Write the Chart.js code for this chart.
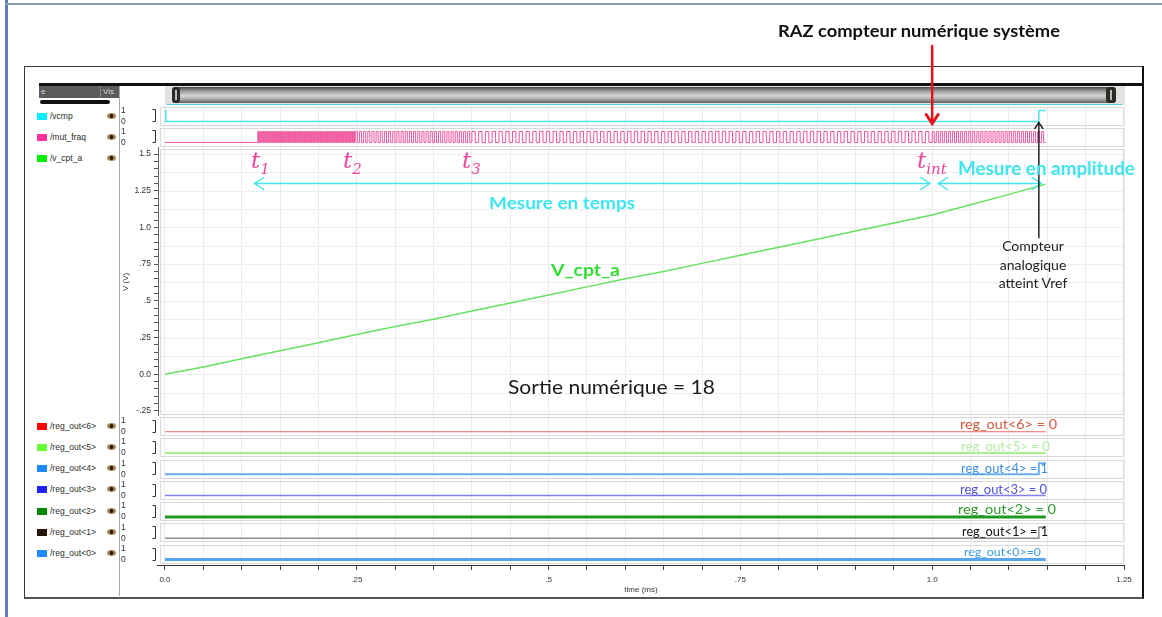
<!DOCTYPE html>
<html>
<head>
<meta charset="utf-8">
<script src="https://cdn.jsdelivr.net/npm/chart.js@4.4.1/dist/chart.umd.min.js"></script>
<style>
  html, body { margin: 0; padding: 0; background: #fff; width: 1162px; height: 617px; overflow: hidden; }
  #stage { position: relative; width: 1162px; height: 617px; font-family: "Liberation Sans", Arial, sans-serif; }
  .abs { position: absolute; }
  .name { position: absolute; left: 50px; font-size: 8.5px; color: #2a2a2a; line-height: 10px; height: 10px; white-space: nowrap; }
  .sq { position: absolute; left: 37px; width: 10px; height: 7px; }
  .eye { position: absolute; left: 107px; width: 9px; height: 6px; border-radius: 50%;
         background: radial-gradient(circle at 50% 50%, #2b1c06 0 1.6px, #a88a58 2.2px); }
  .txt { position: absolute; white-space: nowrap; transform-origin: 0 50%; font-family: Lato, "Open Sans", sans-serif; }
  .tl { position: absolute; white-space: nowrap; color: #e8489c; font-family: "DejaVu Serif", "Liberation Serif", serif; font-style: italic; font-size: 23px; line-height: 26px; }
  .tl sub { font-size: 15px; vertical-align: -6px; }
  .reg { position: absolute; white-space: nowrap; font-family: Lato, sans-serif; font-size: 13px; line-height: 16px; height: 16px; transform-origin: 0 50%; }
</style>
</head>
<body>
<div id="stage">
  <!-- page frame -->
  <div class="abs" style="left:5px;top:0;width:3px;height:617px;background:#5f80b4;"></div>
  <div class="abs" style="left:5px;top:3px;width:1157px;height:2px;background:#8a9bb5;"></div>

  <!-- waveform window frame -->
  <div class="abs" style="left:24px;top:66px;width:1117px;height:530px;border:1px solid #3a3a3a;border-right:2px solid #111;border-bottom:2px solid #555;"></div>
  <div class="abs" style="left:39px;top:83px;width:1103px;height:3px;background:#111;"></div>

  <!-- name panel header -->
  <div class="abs" style="left:39px;top:86px;width:80px;height:12px;background:#5b5b5b;"></div>
  <div class="abs" style="left:100px;top:86px;width:1px;height:12px;background:#8a8a8a;"></div>
  <div class="abs" style="left:41px;top:86px;font-size:8px;line-height:12px;color:#d8d8d8;">e</div>
  <div class="abs" style="left:103px;top:86px;font-size:8px;line-height:12px;color:#d8d8d8;">Vis</div>
  <div class="abs" style="left:40px;top:100px;width:70px;height:4px;border-radius:2px;background:#111;"></div>
  <div class="abs" style="left:119px;top:86px;width:1px;height:510px;background:#a9a9a9;"></div>

  <!-- time scroll bar -->
  <div class="abs" style="left:165px;top:86px;width:960px;height:19px;background:#e2e2e2;"></div>
  <div class="abs" style="left:172px;top:87px;width:944px;height:16px;border-radius:4px;background:linear-gradient(#4a4a4a,#9a9a9a 25%,#d6d6d6 55%,#a0a0a0 80%,#5a5a5a);"></div>
  <div class="abs" style="left:172px;top:87px;width:8px;height:16px;border-radius:3px;background:#2e2a26;"></div>
  <div class="abs" style="left:175px;top:90px;width:2px;height:10px;background:#bbb;"></div>
  <div class="abs" style="left:1106px;top:87px;width:10px;height:16px;border-radius:3px;background:#2e2a26;"></div>
  <div class="abs" style="left:1110px;top:90px;width:2px;height:10px;background:#bbb;"></div>
  <div class="abs" style="left:167px;top:104px;width:955px;height:1px;background:#47d6e6;"></div>

  <!-- signal names -->
  <div class="sq" style="top:113px;background:#00f0ff;"></div><div class="name" style="top:111px;">/vcmp</div><div class="eye" style="top:113px;"></div>
  <div class="sq" style="top:134px;background:#ff3399;"></div><div class="name" style="top:132px;">/mut_fraq</div><div class="eye" style="top:134px;"></div>
  <div class="sq" style="top:155px;background:#00ee00;"></div><div class="name" style="top:153px;">/v_cpt_a</div><div class="eye" style="top:155px;"></div>
  <div class="sq" style="top:423px;background:#ff0000;"></div><div class="name" style="top:421px;">/reg_out&lt;6&gt;</div><div class="eye" style="top:423px;"></div>
  <div class="sq" style="top:444px;background:#66ff33;"></div><div class="name" style="top:442px;">/reg_out&lt;5&gt;</div><div class="eye" style="top:444px;"></div>
  <div class="sq" style="top:465px;background:#1e8cff;"></div><div class="name" style="top:463px;">/reg_out&lt;4&gt;</div><div class="eye" style="top:465px;"></div>
  <div class="sq" style="top:486px;background:#2222ff;"></div><div class="name" style="top:484px;">/reg_out&lt;3&gt;</div><div class="eye" style="top:486px;"></div>
  <div class="sq" style="top:508px;background:#008a00;"></div><div class="name" style="top:506px;">/reg_out&lt;2&gt;</div><div class="eye" style="top:508px;"></div>
  <div class="sq" style="top:529px;background:#241507;"></div><div class="name" style="top:527px;">/reg_out&lt;1&gt;</div><div class="eye" style="top:529px;"></div>
  <div class="sq" style="top:550px;background:#1e8cff;"></div><div class="name" style="top:548px;">/reg_out&lt;0&gt;</div><div class="eye" style="top:550px;"></div>

  <canvas id="wave" width="1162" height="617" style="position:absolute;left:0;top:0;"></canvas>

  <!-- annotations -->
  <div class="txt" data-w="282" style="left:778px;top:21px;font-size:17px;line-height:20px;font-weight:bold;color:#111;">RAZ compteur numérique système</div>
  <div class="tl" style="left:251px;top:147px;">t<sub>1</sub></div>
  <div class="tl" style="left:343px;top:147px;">t<sub>2</sub></div>
  <div class="tl" style="left:462px;top:147px;">t<sub>3</sub></div>
  <div class="tl" style="left:917px;top:147px;">t<sub>int</sub></div>
  <div class="txt" data-w="177" style="left:958px;top:157px;font-size:18px;line-height:22px;font-weight:bold;color:#3ee6f0;">Mesure en amplitude</div>
  <div class="txt" data-w="146" style="left:489px;top:192px;font-size:17px;line-height:22px;font-weight:bold;color:#3ee6f0;">Mesure en temps</div>
  <div class="txt" data-w="69" style="left:551px;top:259px;font-size:17px;line-height:22px;font-weight:bold;color:#33dd33;">V_cpt_a</div>
  <div class="abs" style="left:990px;top:237px;width:86px;text-align:center;font-family:Lato,sans-serif;font-size:14px;line-height:18.5px;color:#222;">Compteur<br>analogique<br>atteint Vref</div>
  <div class="txt" data-w="207" style="left:508px;top:374px;font-size:20px;line-height:24px;color:#1a1a1a;">Sortie numérique = 18</div>

  <div class="reg" data-w="97" style="left:960px;top:416px;color:#d4573e;">reg_out&lt;6&gt; = 0</div>
  <div class="reg" data-w="89" style="left:961px;top:438px;color:#b4eea4;">reg_out&lt;5&gt; = 0</div>
  <div class="reg" data-w="87" style="left:961px;top:460px;color:#3b8fdf;">reg_out&lt;4&gt; = 1</div>
  <div class="reg" data-w="87" style="left:960px;top:481px;color:#5050dc;">reg_out&lt;3&gt; = 0</div>
  <div class="reg" data-w="98" style="left:958px;top:501px;color:#2a9a2a;font-size:14px;">reg_out&lt;2&gt; = 0</div>
  <div class="reg" data-w="86" style="left:962px;top:523px;color:#111;">reg_out&lt;1&gt; = 1</div>
  <div class="reg" data-w="77" style="left:964px;top:544px;color:#3b9be6;font-size:12px;">reg_out&lt;0&gt;=0</div>
</div>

<script>
// ---- V_cpt_a analog ramp (time in ms, volts) ----
const rampTime = [0, 0.05, 0.10, 0.15, 0.20, 0.25, 0.30, 0.35, 0.40, 0.45, 0.50, 0.55,
                  0.60, 0.65, 0.70, 0.75, 0.80, 0.85, 0.90, 0.95, 1.00, 1.05, 1.10, 1.148];
const rampVolts = [0.00, 0.05, 0.105, 0.16, 0.215, 0.27, 0.325, 0.375, 0.43, 0.485, 0.54, 0.595,
                   0.65, 0.70, 0.755, 0.81, 0.865, 0.92, 0.975, 1.03, 1.085, 1.155, 1.225, 1.295];

// ---- vcmp comparator output: edge times and levels ----
const vcmpTime = [0, 0.001, 1.139, 1.148];
const vcmpLevel = [1, 0, 1, 1];

// ---- mut_fraq clock bursts: start, end and pulse count of each burst ----
const mutBurstStart = [0.121, 0.248, 0.400, 1.000];
const mutBurstEnd = [0.248, 0.400, 1.000, 1.148];
const mutBurstPulses = [70, 28, 68, 28];

// ---- digital counter outputs (18 = 0010010b) ----
const regTime = [0, 1.139, 1.148];
const regOut6 = [0, 0, 0];
const regOut5 = [0, 0, 0];
const regOut4 = [0, 1, 1];
const regOut3 = [0, 0, 0];
const regOut2 = [0, 0, 0];
const regOut1 = [0, 1, 1];
const regOut0 = [0, 0, 0];

// ---- axis tick labels ----
const timeLabelValues = [0, 0.25, 0.5, 0.75, 1.0, 1.25];
const timeLabels = ['0.0', '.25', '.5', '.75', '1.0', '1.25'];
const voltLabelValues = [1.5, 1.25, 1.0, 0.75, 0.5, 0.25, 0, -0.25];
const voltLabels = ['1.5', '1.25', '1.0', '.75', '.5', '.25', '0.0', '-.25'];

function toPoints(xs, ys) { return xs.map((x, i) => ({ x: x, y: ys[i] })); }

function clockPoints() {
  const pts = [{ x: 0, y: 0 }];
  mutBurstStart.forEach((s, b) => {
    const half = (mutBurstEnd[b] - s) / (2 * mutBurstPulses[b]);
    for (let k = 0; k < 2 * mutBurstPulses[b]; k++) pts.push({ x: s + k * half, y: k % 2 === 0 ? 1 : 0 });
  });
  pts.push({ x: mutBurstEnd[mutBurstEnd.length - 1], y: 0 });
  return pts;
}

function stepTicks(lo, hi, step) {
  const out = [];
  const n = Math.round((hi - lo) / step);
  for (let i = 0; i <= n; i++) out.push({ value: +(lo + i * step).toFixed(4) });
  return out;
}
function labelFor(v, values, labels) {
  const i = values.findIndex(t => Math.abs(t - v) < 1e-6);
  return i < 0 ? '' : labels[i];
}

const tickFont = { family: '"Liberation Sans", Arial, sans-serif', size: 8.5 };
const digitalLaneIds = ['yVcmp', 'yMut', 'yR6', 'yR5', 'yR4', 'yR3', 'yR2', 'yR1', 'yR0'];

function digitalAxis(order, height) {
  return {
    type: 'linear', position: 'left', stack: 'lanes', stackWeight: height, weight: order,
    min: -0.5, max: -0.5 + height / 11,
    afterFit: s => { s.width = 37; },
    afterBuildTicks: s => { s.ticks = [{ value: 0 }, { value: 1 }]; },
    ticks: { callback: v => (v === 1 ? '1' : '0'), crossAlign: 'far', autoSkip: false,
             font: tickFont, color: '#333', padding: 0 },
    grid: { display: false },
    border: { display: false }
  };
}

// lane boxes, analog grid and value brackets
const laneDecor = {
  id: 'laneDecor',
  beforeDatasetsDraw(chart) {
    const ctx = chart.ctx;
    const { left, right } = chart.chartArea;
    ctx.save();
    ctx.lineWidth = 1;
    const yV = chart.scales.yV;
    ctx.strokeStyle = '#ededed';
    for (let v = -0.25; v <= 1.5001; v += 0.125) {
      const y = Math.round(yV.getPixelForValue(v)) + 0.5;
      ctx.beginPath(); ctx.moveTo(left + 2, y); ctx.lineTo(right, y); ctx.stroke();
    }
    ctx.strokeStyle = '#d9d9d9';
    digitalLaneIds.concat(['yV']).forEach(id => {
      const s = chart.scales[id];
      ctx.strokeRect(left + 2.5, Math.round(s.top) + 1.5, right - left - 3, Math.round(s.bottom - s.top) - 3);
    });
    ctx.strokeStyle = '#333';
    digitalLaneIds.forEach(id => {
      const s = chart.scales[id];
      const x = left - 2.5;
      const y1 = Math.round(s.getPixelForValue(1)) - 0.5;
      const y0 = Math.round(s.getPixelForValue(0)) + 0.5;
      ctx.beginPath();
      ctx.moveTo(x - 3, y1); ctx.lineTo(x, y1); ctx.lineTo(x, y0); ctx.lineTo(x - 3, y0);
      ctx.stroke();
    });
    ctx.restore();
  }
};

function chevron(ctx, x, y, dx, dy, size, spread) {
  const len = Math.hypot(dx, dy);
  const ux = dx / len, uy = dy / len;
  ctx.beginPath();
  ctx.moveTo(x - ux * size - uy * spread, y - uy * size + ux * spread);
  ctx.lineTo(x, y);
  ctx.lineTo(x - ux * size + uy * spread, y - uy * size - ux * spread);
  ctx.stroke();
}

// measurement arrows
const arrows = {
  id: 'arrows',
  afterDatasetsDraw(chart) {
    const ctx = chart.ctx;
    const xs = chart.scales.x, yV = chart.scales.yV, yC = chart.scales.yVcmp;
    ctx.save();
    ctx.lineCap = 'round';
    // reset of the digital counter
    const xr = xs.getPixelForValue(1.0);
    const tip = yC.getPixelForValue(0) + 2;
    ctx.strokeStyle = '#e3121b'; ctx.lineWidth = 2.5;
    ctx.beginPath(); ctx.moveTo(xr, 46); ctx.lineTo(xr, tip); ctx.stroke();
    ctx.lineWidth = 3;
    chevron(ctx, xr, tip, 0, 1, 9, 6);
    // time and amplitude measurement spans
    const ya = Math.round(yV.getPixelForValue(1.30)) + 0.5;
    ctx.strokeStyle = '#44e4ee'; ctx.lineWidth = 1.5;
    [[0.117, 0.997], [1.008, 1.142]].forEach(([a, b]) => {
      const xa = xs.getPixelForValue(a), xb = xs.getPixelForValue(b);
      ctx.beginPath(); ctx.moveTo(xa, ya); ctx.lineTo(xb, ya); ctx.stroke();
      chevron(ctx, xa, ya, -1, 0, 9, 6);
      chevron(ctx, xb, ya, 1, 0, 9, 6);
    });
    // analog counter reaching Vref
    const xv = xs.getPixelForValue(1.139);
    const yTop = yC.getPixelForValue(0) + 1;
    ctx.strokeStyle = '#222'; ctx.lineWidth = 1.5;
    ctx.beginPath(); ctx.moveTo(xv, yV.getPixelForValue(0.93)); ctx.lineTo(xv, yTop); ctx.stroke();
    chevron(ctx, xv, yTop, 0, -1, 6, 4);
    ctx.restore();
  }
};

function line(data, axis, color, width) {
  return { data: data, yAxisID: axis, borderColor: color, borderWidth: width, stepped: 'before',
           pointRadius: 0, fill: false, tension: 0 };
}

new Chart(document.getElementById('wave'), {
  type: 'line',
  data: {
    datasets: [
      line(toPoints(vcmpTime, vcmpLevel), 'yVcmp', '#4fe4ee', 1.5),
      line(clockPoints(), 'yMut', '#f0579f', 1),
      Object.assign(line(toPoints(rampTime, rampVolts), 'yV', '#66e25e', 1.5), { stepped: false }),
      line(toPoints(regTime, regOut6), 'yR6', '#e8685a', 1.2),
      line(toPoints(regTime, regOut5), 'yR5', '#a4f08a', 2),
      line(toPoints(regTime, regOut4), 'yR4', '#6aaef0', 2),
      line(toPoints(regTime, regOut3), 'yR3', '#7f7ff2', 1.5),
      line(toPoints(regTime, regOut2), 'yR2', '#1f9a1f', 3),
      line(toPoints(regTime, regOut1), 'yR1', '#8f8f8f', 1.5),
      line(toPoints(regTime, regOut0), 'yR0', '#55a6ee', 3)
    ]
  },
  options: {
    responsive: false,
    animation: false,
    devicePixelRatio: 1,
    layout: { padding: { left: 121, right: 38, top: 106, bottom: 22 } },
    plugins: { legend: { display: false }, tooltip: { enabled: false } },
    scales: {
      x: {
        type: 'linear', position: 'bottom', min: -0.00912, max: 1.25,
        afterFit: s => { s.height = 30; },
        afterBuildTicks: s => { s.ticks = stepTicks(0, 1.25, 0.05); },
        ticks: { callback: v => labelFor(v, timeLabelValues, timeLabels), autoSkip: false, maxRotation: 0,
                 font: { family: tickFont.family, size: 8 }, color: '#333', padding: 5 },
        grid: { color: '#ececec', tickColor: '#444', tickLength: 5, drawOnChartArea: true },
        border: { display: true, color: '#333' },
        title: { display: true, text: 'time (ms)', font: { family: tickFont.family, size: 8 }, color: '#333', padding: 0 }
      },
      yVcmp: digitalAxis(10, 21),
      yMut: digitalAxis(9, 21),
      yV: {
        type: 'linear', position: 'left', stack: 'lanes', stackWeight: 268, weight: 8,
        min: -0.284, max: 1.541,
        afterFit: s => { s.width = 37; },
        afterBuildTicks: s => { s.ticks = stepTicks(-0.25, 1.5, 0.05); },
        ticks: { callback: v => labelFor(v, voltLabelValues, voltLabels), autoSkip: false, font: tickFont, color: '#333', padding: 3 },
        grid: { drawOnChartArea: false, drawTicks: true, tickLength: 4, tickColor: '#555' },
        border: { display: true, color: '#666' },
        title: { display: true, text: 'V (V)', font: { family: tickFont.family, size: 8 }, color: '#333', padding: 0 }
      },
      yR6: digitalAxis(7, 21.3),
      yR5: digitalAxis(6, 21.3),
      yR4: digitalAxis(5, 21.3),
      yR3: digitalAxis(4, 21.3),
      yR2: digitalAxis(3, 21.3),
      yR1: digitalAxis(2, 21.3),
      yR0: digitalAxis(1, 21.3)
    }
  },
  plugins: [laneDecor, arrows]
});

// size annotation texts to their boxes
function fitTexts() {
  document.querySelectorAll('[data-w]').forEach(el => {
    el.style.transform = 'none';
    const w = el.getBoundingClientRect().width;
    const target = parseFloat(el.dataset.w);
    if (w > 0) el.style.transform = 'scaleX(' + (target / w).toFixed(3) + ')';
  });
}
fitTexts();
if (document.fonts && document.fonts.ready) document.fonts.ready.then(fitTexts);
</script>
</body>
</html>
